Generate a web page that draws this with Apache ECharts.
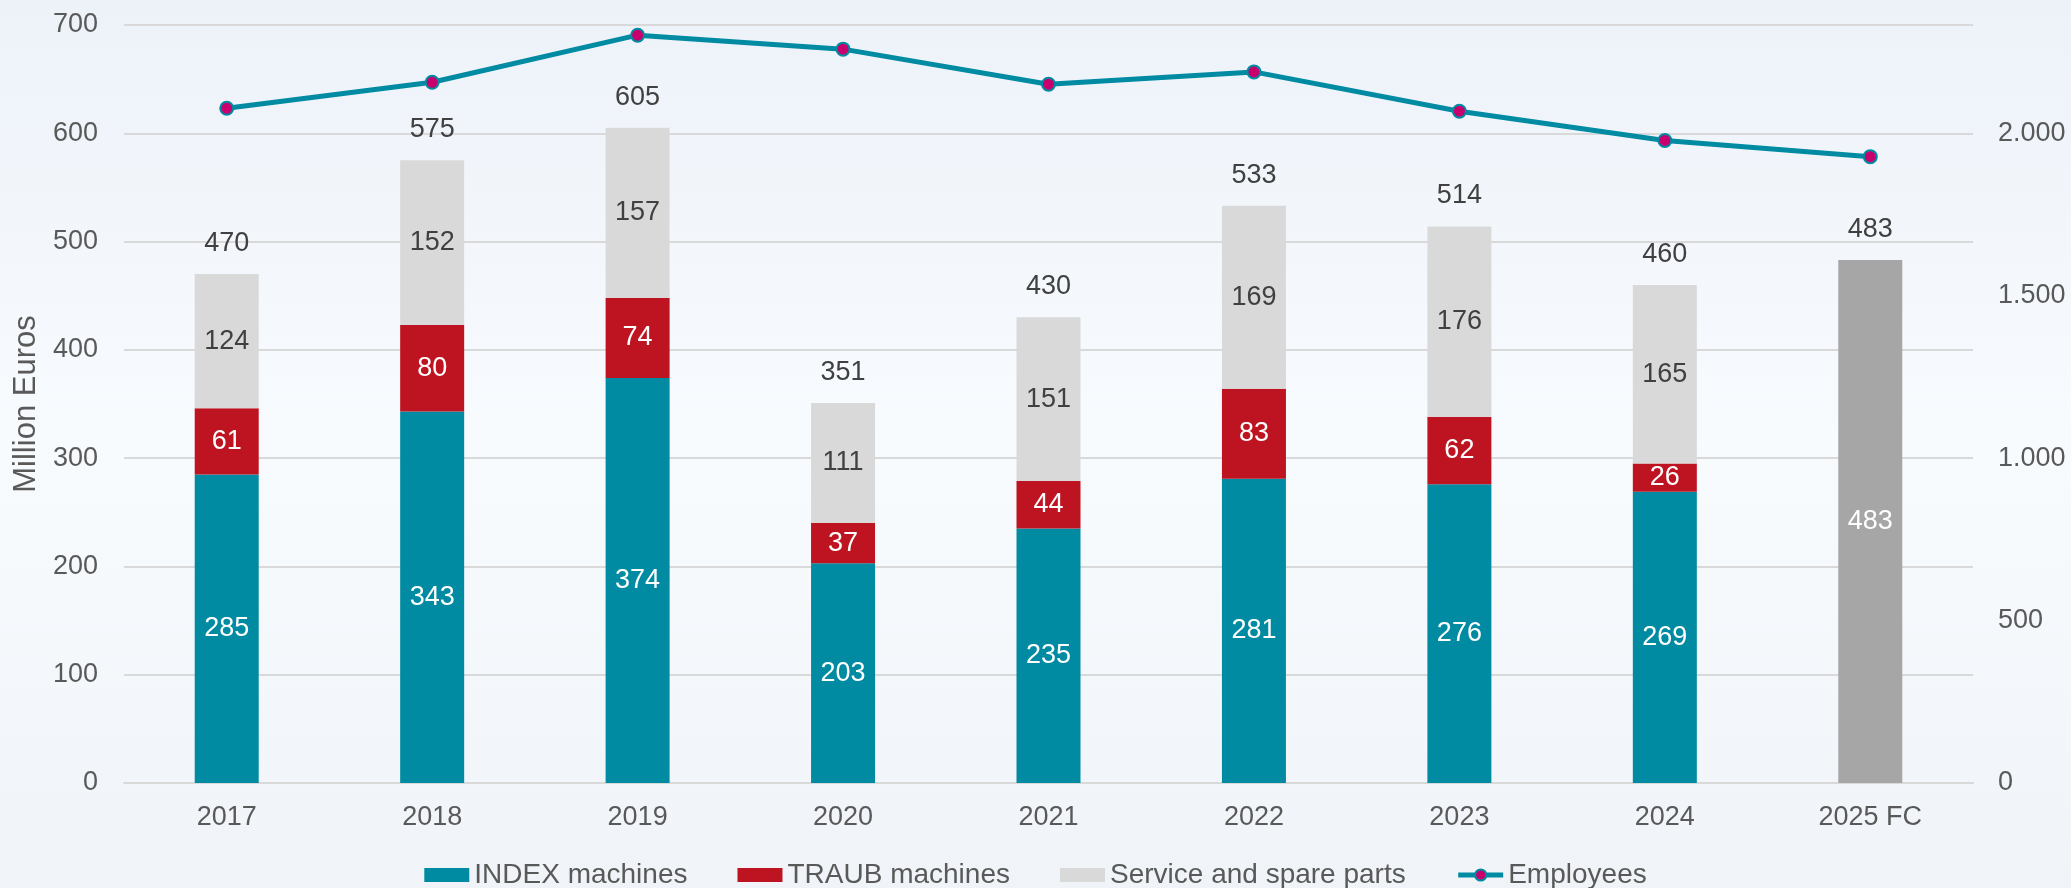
<!DOCTYPE html>
<html>
<head>
<meta charset="utf-8">
<script src="https://cdn.jsdelivr.net/npm/echarts@6/dist/echarts.min.js"></script>
<style>
  html, body { margin: 0; padding: 0; }
  #chart { width: 2071px; height: 888px; }
</style>
</head>
<body>
<div id="chart"></div>
<script>
const years = ['2017', '2018', '2019', '2020', '2021', '2022', '2023', '2024', '2025 FC']
const indexMachines = [285, 343, 374, 203, 235, 281, 276, 269, null]
const traubMachines = [61, 80, 74, 37, 44, 83, 62, 26, null]
const serviceParts = [124, 152, 157, 111, 151, 169, 176, 165, null]
const forecast = [null, null, null, null, null, null, null, null, 483]
const totals = [470, 575, 605, 351, 430, 533, 514, 460, 483]
const employees = [2077, 2157, 2302, 2259, 2151, 2189, 2068, 1978, 1928]

const font = 'Liberation Sans, Arial, sans-serif'
const textGray = '#595959'
const barW = 64

function stackLabel(color) {
  return {
    show: true,
    position: 'inside',
    color: color,
    fontSize: 27,
    fontFamily: font
  }
}

const chart = echarts.init(document.getElementById('chart'))

const option = {
  backgroundColor: {
    type: 'linear', x: 0, y: 0, x2: 0, y2: 1,
    colorStops: [
      { offset: 0, color: '#edf2f9' },
      { offset: 0.5, color: '#f8fbfe' },
      { offset: 1, color: '#f0f4f8' }
    ]
  },
  textStyle: { fontFamily: font },
  animation: false,
  grid: { left: 124, right: 98, top: 25, bottom: 105 },
  legend: {
    left: 'center',
    top: 856,
    itemWidth: 45,
    itemHeight: 14,
    itemGap: 50,
    textStyle: { color: textGray, fontSize: 28, fontFamily: font },
    data: [
      { name: 'INDEX machines', icon: 'rect' },
      { name: 'TRAUB machines', icon: 'rect' },
      { name: 'Service and spare parts', icon: 'rect' },
      { name: 'Employees', lineStyle: { width: 5 } }
    ]
  },
  xAxis: {
    type: 'category',
    data: years,
    axisTick: { show: false },
    axisLine: { lineStyle: { color: '#d9d9d9', width: 2 } },
    axisLabel: { color: textGray, fontSize: 27, margin: 21, fontFamily: font }
  },
  yAxis: [
    {
      type: 'value',
      min: 0,
      max: 700,
      interval: 100,
      name: 'Million Euros',
      nameLocation: 'middle',
      nameGap: 80,
      nameTextStyle: { color: textGray, fontSize: 31, fontFamily: font },
      axisLabel: { color: textGray, fontSize: 27, margin: 26, fontFamily: font },
      splitLine: { lineStyle: { color: '#d9d9d9', width: 2 } }
    },
    {
      type: 'value',
      min: 0,
      max: 7000 / 3,
      interval: 500,
      splitLine: { show: false },
      axisLabel: {
        color: textGray,
        fontSize: 27,
        margin: 25,
        fontFamily: font,
        formatter: function(v) {
          if (v % 500 !== 0) return ''
          return v >= 1000 ? Math.floor(v / 1000) + '.' + String(v % 1000).padStart(3, '0') : String(v)
        }
      }
    }
  ],
  series: [
    {
      name: 'INDEX machines',
      type: 'bar',
      stack: 'sales',
      barWidth: barW,
      data: indexMachines,
      itemStyle: { color: '#008ba2' },
      label: stackLabel('#ffffff')
    },
    {
      name: 'TRAUB machines',
      type: 'bar',
      stack: 'sales',
      barWidth: barW,
      data: traubMachines,
      itemStyle: { color: '#be1421' },
      label: stackLabel('#ffffff')
    },
    {
      name: 'Service and spare parts',
      type: 'bar',
      stack: 'sales',
      barWidth: barW,
      data: serviceParts,
      itemStyle: { color: '#d9d9d9' },
      label: stackLabel('#404040')
    },
    {
      name: 'Forecast',
      type: 'bar',
      stack: 'sales',
      barWidth: barW,
      data: forecast,
      itemStyle: { color: '#a6a6a6' },
      label: stackLabel('#ffffff')
    },
    {
      // invisible bar only used to put the totals above each column
      name: 'Total',
      type: 'bar',
      barWidth: barW,
      barGap: '-100%',
      data: totals,
      itemStyle: { color: 'rgba(0,0,0,0)' },
      label: {
        show: true,
        position: 'top',
        distance: 17,
        color: '#404040',
        fontSize: 27,
        fontFamily: font
      },
      silent: true,
      z: 1
    },
    {
      name: 'Employees',
      type: 'line',
      yAxisIndex: 1,
      data: employees,
      symbol: 'circle',
      symbolSize: 13,
      lineStyle: { color: '#008ba2', width: 5 },
      itemStyle: { color: '#c8006e', borderColor: '#008ba2', borderWidth: 2 },
      z: 5
    }
  ]
}

chart.setOption(option)
</script>
</body>
</html>
